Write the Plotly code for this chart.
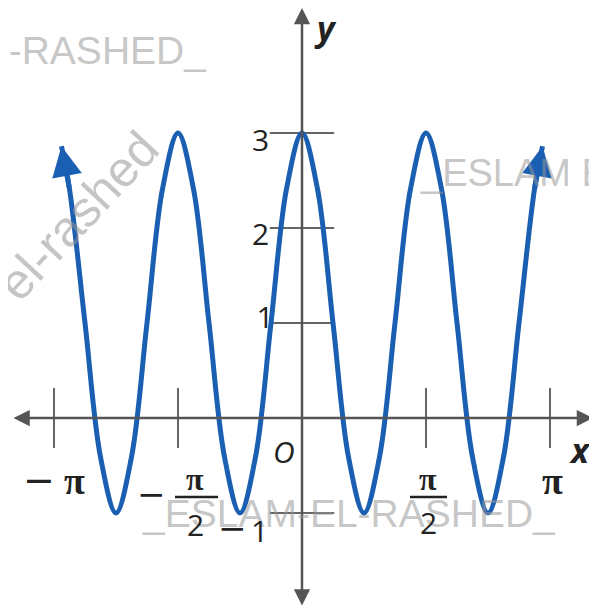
import plotly.graph_objects as go

# curve (x in multiples of pi)
x_pi = [-0.97, -0.9375, -0.875, -0.8125, -0.75, -0.6875, -0.625, -0.5625, -0.5,
        -0.4375, -0.375, -0.3125, -0.25, -0.1875, -0.125, -0.0625, 0,
        0.0625, 0.125, 0.1875, 0.25, 0.3125, 0.375, 0.4375, 0.5,
        0.5625, 0.625, 0.6875, 0.75, 0.8125, 0.875, 0.9375, 0.97]
y_val = [2.86, 2.41, 1, -0.41, -1, -0.41, 1, 2.41, 3,
         2.41, 1, -0.41, -1, -0.41, 1, 2.41, 3,
         2.41, 1, -0.41, -1, -0.41, 1, 2.41, 3,
         2.41, 1, -0.41, -1, -0.41, 1, 2.41, 2.86]

x_ticks = [-1, -0.5, 0.5, 1]
y_ticks = [-1, 1, 2, 3]

# page pixel -> data helpers (origin at 302,418; 248 px per pi; 95 px per unit)
def px(p):
    return (p - 302) / 248.0

def py(p):
    return (418 - p) / 95.0

AX = "#555555"
BLUE = "#1b5fb3"
TXT = "#222222"
WM = "rgba(150,150,150,0.55)"
PI_FONT = "Liberation Serif"
NUM_FONT = "Open Sans"
MINUS_FONT = "DejaVu Sans"
WM_FONT = "Liberation Sans"

fig = go.Figure()

# label "1" sits under the curve
fig.add_trace(go.Scatter(x=[px(265)], y=[py(320)], mode="text", text=["1"],
                         textfont=dict(size=30, color=TXT, family=NUM_FONT),
                         hoverinfo="skip", showlegend=False))

# tick marks crossing the axes
fig.add_trace(go.Scatter(x=x_ticks, y=[0] * len(x_ticks), mode="markers",
                         marker=dict(symbol="line-ns", size=43, line=dict(color="#666666", width=2)),
                         hoverinfo="skip", showlegend=False))
fig.add_trace(go.Scatter(x=[0] * len(y_ticks), y=y_ticks, mode="markers",
                         marker=dict(symbol="line-ew", size=46, line=dict(color="#666666", width=2)),
                         hoverinfo="skip", showlegend=False))

fig.add_trace(go.Scatter(x=x_pi, y=y_val, mode="lines",
                         line=dict(color=BLUE, width=5, shape="spline", smoothing=1),
                         hoverinfo="skip", showlegend=False))

# axes with arrows
fig.add_annotation(x=px(593), y=0, ax=px(12), ay=0, xref="x", yref="y", axref="x", ayref="y",
                   text="", showarrow=True, arrowhead=2, arrowside="end+start",
                   arrowsize=1.3, arrowwidth=2.5, arrowcolor=AX)
fig.add_annotation(x=0, y=py(8), ax=0, ay=py(607), xref="x", yref="y", axref="x", ayref="y",
                   text="", showarrow=True, arrowhead=2, arrowside="end+start",
                   arrowsize=1.3, arrowwidth=2.5, arrowcolor=AX)

# arrowheads on the curve ends
for tip, tail in [(0, 1), (-1, -2)]:
    fig.add_annotation(x=x_pi[tip], y=y_val[tip], ax=x_pi[tail], ay=y_val[tail],
                       xref="x", yref="y", axref="x", ayref="y", text="", showarrow=True,
                       arrowhead=2, arrowsize=1.2, arrowwidth=5, arrowcolor=BLUE)

def label(x, y, t, size=30, fam=NUM_FONT, color=TXT, angle=0, xanchor="center"):
    fig.add_annotation(x=px(x), y=py(y), text=t, showarrow=False, xref="x", yref="y",
                       textangle=angle, xanchor=xanchor,
                       font=dict(size=size, color=color, family=fam))

# watermarks (drawn first so labels stay on top)
label(209, 50, "EL-RASHED_", 39, WM_FONT, WM, xanchor="right")
label(78, 216, "el-rashed", 50, WM_FONT, WM, angle=-47)
label(418, 173, "_ESLAM EL-RASHED_", 38, WM_FONT, WM, xanchor="left")
label(140, 513, "_ESLAM-EL-RASHED_", 39, WM_FONT, WM, xanchor="left")

# tick labels
label(39, 480, "−", 38, MINUS_FONT)
label(74, 481, "<b>π</b>", 38, PI_FONT)
label(552, 481, "<b>π</b>", 38, PI_FONT)
label(151, 494, "−", 34, MINUS_FONT)
label(195, 479, "<b>π</b>", 32, PI_FONT)
label(195, 524, "2", 30)
label(428, 479, "<b>π</b>", 32, PI_FONT)
label(428, 522, "2", 30)
for x0, x1 in [(175, 218), (410, 447)]:
    fig.add_shape(type="line", x0=px(x0), x1=px(x1), y0=py(497), y1=py(497),
                  line=dict(color=TXT, width=2.5))
label(232, 528, "−", 34, MINUS_FONT)
label(259, 530, "1", 30)
label(260, 233, "2", 30)
label(260, 139, "3", 30)
label(284, 451, "<i>O</i>", 30)
label(580, 450, "<b><i>x</i></b>", 34)
label(325, 28, "<b><i>y</i></b>", 34)

# page has an 8px body margin, so the figure covers page pixels 8..597 / 8..615
fig.update_layout(
    width=589, height=607,
    margin=dict(l=0, r=0, t=0, b=0),
    paper_bgcolor="white", plot_bgcolor="white",
    xaxis=dict(range=[px(8), px(597)], visible=False, fixedrange=True),
    yaxis=dict(range=[py(615), py(8)], visible=False, fixedrange=True),
)

fig.write_html("out.html")
